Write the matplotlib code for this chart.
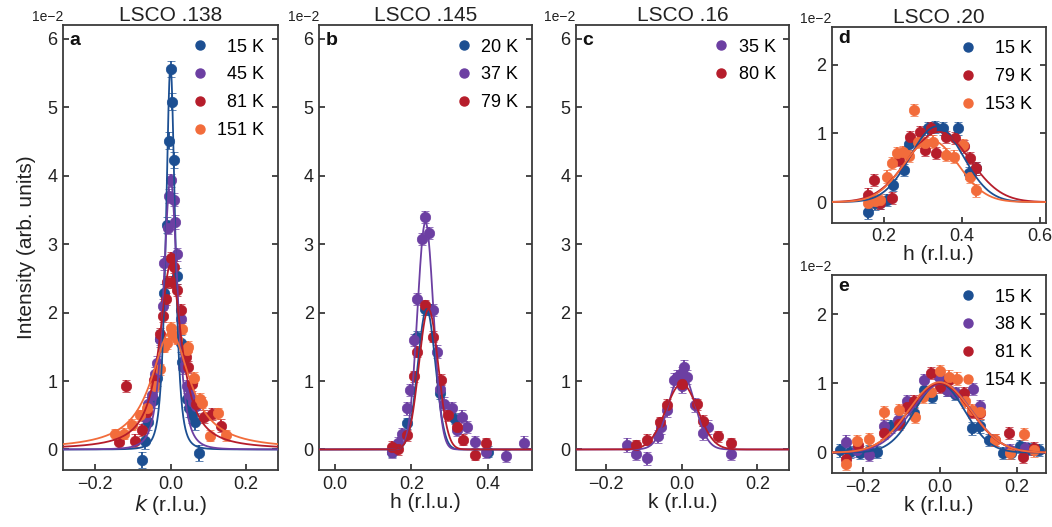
import numpy as np
import matplotlib
matplotlib.use("Agg")
import matplotlib.pyplot as plt
from matplotlib.lines import Line2D
from matplotlib.ticker import MultipleLocator, ScalarFormatter

plt.rcParams['font.family'] = ['Liberation Sans', 'DejaVu Sans']
plt.rcParams['axes.unicode_minus'] = True

BLUE = '#1c4f92'
PURPLE = '#6c3fa2'
RED = '#b61d2b'
ORANGE = '#f26c3b'
SCALE = 1e-2  # values below are in units of 1e-2

# ---------------- Panel a: LSCO .138 (k scan) ----------------
a_labels = ['\u200715 K', '\u200745 K', '\u200781 K', '151 K']
a_k_15 = [-0.075, -0.068, -0.059, -0.045, -0.035, -0.027, -0.016, -0.009, -0.004, 0.0, 0.004, 0.009, 0.018, 0.027, 0.031, 0.045, 0.05, 0.058, 0.066, 0.075]
a_I_15 = [-0.15, 0.12, 0.40, 0.72, 1.04, 1.62, 2.29, 3.28, 4.51, 5.56, 5.08, 4.23, 2.53, 1.55, 1.28, 0.74, 0.60, 0.50, 0.40, -0.05]
a_k_45 = [-0.067, -0.06, -0.05, -0.042, -0.035, -0.027, -0.019, -0.018, -0.006, -0.004, 0.0, 0.009, 0.012, 0.018, 0.027, 0.032, 0.045, 0.053, 0.06, 0.068]
a_I_45 = [0.48, 0.67, 0.8, 1.1, 1.27, 1.62, 2.1, 2.72, 3.24, 3.7, 3.93, 3.65, 3.32, 2.85, 1.9, 1.2, 0.92, 0.8, 0.7, 0.63]
a_k_81 = [-0.137, -0.117, -0.093, -0.075, -0.062, -0.044, -0.028, -0.019, -0.013, -0.009, 0.0, 0.004, 0.009, 0.018, 0.027, 0.04, 0.047, 0.058, 0.067, 0.088, 0.11, 0.135]
a_I_81 = [0.11, 0.93, 0.13, 0.28, 0.55, 1.01, 1.69, 1.95, 2.2, 2.45, 2.79, 2.45, 2.67, 2.33, 2.04, 1.35, 1.2, 0.95, 0.67, 0.48, 0.52, 0.35]
a_k_151 = [-0.146, -0.124, -0.103, -0.081, -0.062, -0.042, -0.029, -0.018, -0.009, 0.0, 0.004, 0.018, 0.031, 0.044, 0.047, 0.062, 0.078, 0.084, 0.104, 0.125, 0.146]
a_I_151 = [0.22, 0.23, 0.36, 0.5, 0.6, 0.93, 1.17, 1.5, 1.55, 1.78, 1.68, 1.62, 1.76, 1.45, 1.5, 1.05, 0.74, 0.68, 0.2, 0.53, 0.21]
a_err = [0.12, 0.1, 0.09, 0.08]
# fit parameters (amplitude, centre, width, Lorentzian power)
a_fit_amp = [5.6, 3.95, 2.7, 1.72]
a_fit_cen = [0.0, 0.0, 0.0, 0.0]
a_fit_wid = [0.0217, 0.034, 0.035, 0.062]
a_fit_pow = [2.0, 2.0, 1.0, 1.0]

# ---------------- Panel b: LSCO .145 (h scan) ----------------
b_labels = ['20 K', '37 K', '79 K']
b_h_20 = [0.15, 0.19, 0.215, 0.235, 0.245, 0.275, 0.315, 0.40]
b_I_20 = [-0.03, 0.38, 1.65, 2.05, 2.05, 0.82, 0.45, -0.03]
b_h_37 = [0.15, 0.165, 0.177, 0.188, 0.197, 0.207, 0.216, 0.227, 0.235, 0.247, 0.257, 0.266, 0.274, 0.285, 0.306, 0.318, 0.333, 0.345, 0.365, 0.396, 0.446, 0.494]
b_I_37 = [-0.03, 0.09, 0.23, 0.6, 0.87, 1.6, 2.2, 3.07, 3.4, 3.16, 2.04, 1.43, 0.89, 0.67, 0.6, 0.28, 0.48, 0.33, 0.11, -0.03, -0.1, 0.1]
b_h_79 = [0.15, 0.166, 0.188, 0.207, 0.216, 0.235, 0.256, 0.277, 0.296, 0.318, 0.335, 0.365, 0.396]
b_I_79 = [0.04, 0.0, 0.21, 1.07, 1.43, 2.11, 1.65, 1.02, 0.5, 0.33, 0.14, -0.08, 0.09]
b_err = [0.08, 0.09, 0.08]
b_fit_amp = [2.05, 3.32, 2.05]
b_fit_cen = [0.240, 0.237, 0.245]
b_fit_wid = [0.023, 0.021, 0.025]

# ---------------- Panel c: LSCO .16 (k scan) ----------------
c_labels = ['35 K', '80 K']
c_k_35 = [-0.145, -0.121, -0.093, -0.063, -0.055, -0.038, -0.02, -0.013, 0.0, 0.0, 0.006, 0.015, 0.035, 0.057, 0.07, 0.13]
c_I_35 = [0.07, -0.06, -0.13, 0.19, 0.33, 0.58, 1.01, 1.06, 1.11, 0.92, 1.21, 1.06, 0.65, 0.24, 0.33, -0.06]
c_k_80 = [-0.121, -0.091, -0.057, -0.038, 0.0, 0.04, 0.057, 0.097, 0.13]
c_I_80 = [0.06, 0.14, 0.4, 0.65, 0.96, 0.66, 0.42, 0.19, 0.09]
c_err = [0.1, 0.08]
c_fit_amp = [1.12, 0.96]
c_fit_cen = [0.0, 0.0]
c_fit_wid = [0.034, 0.042]

# ---------------- Panel d: LSCO .20 (h scan) ----------------
d_labels = ['\u200715 K', '\u200779 K', '153 K']
d_h_15 = [0.158, 0.175, 0.19, 0.206, 0.222, 0.251, 0.264, 0.312, 0.33, 0.35, 0.39, 0.417, 0.436]
d_I_15 = [-0.15, -0.02, -0.01, 0.03, 0.25, 0.47, 0.85, 1.07, 1.09, 1.07, 1.07, 0.42, 0.49]
d_h_79 = [0.158, 0.173, 0.189, 0.221, 0.239, 0.266, 0.293, 0.305, 0.32, 0.334, 0.359, 0.383, 0.404, 0.421, 0.437]
d_I_79 = [0.11, 0.32, -0.01, 0.06, 0.61, 0.95, 1.02, 0.76, 1.07, 0.71, 0.95, 0.93, 0.81, 0.64, 0.49]
d_h_153 = [0.158, 0.177, 0.189, 0.206, 0.221, 0.232, 0.247, 0.264, 0.276, 0.288, 0.305, 0.326, 0.359, 0.379, 0.402, 0.421, 0.437]
d_I_153 = [-0.01, 0.01, 0.03, 0.37, 0.57, 0.71, 0.73, 0.67, 1.34, 0.88, 0.86, 0.88, 0.69, 0.66, 0.83, 0.37, 0.17]
d_err = [0.09, 0.09, 0.09]
d_fit_amp = [1.1, 1.02, 0.9]
d_fit_cen = [0.335, 0.34, 0.32]
d_fit_wid = [0.068, 0.08, 0.07]

# ---------------- Panel e: LSCO .20 (k scan) ----------------
e_labels = ['\u200715 K', '\u200738 K', '\u200781 K', '154 K']
e_k_15 = [-0.259, -0.232, -0.206, -0.182, -0.162, -0.125, -0.104, -0.066, -0.041, -0.02, 0.0, 0.019, 0.04, 0.084, 0.105, 0.127, 0.164, 0.186, 0.209, 0.232, 0.257]
e_I_15 = [0.03, 0.01, 0.0, 0.02, 0.01, 0.38, 0.45, 0.57, 0.91, 0.81, 1.1, 0.91, 0.85, 0.35, 0.38, 0.18, -0.01, 0.0, 0.09, 0.05, 0.04]
e_k_38 = [-0.244, -0.214, -0.184, -0.145, -0.109, -0.086, -0.041, -0.003, 0.019, 0.043, 0.086, 0.105, 0.183, 0.222]
e_I_38 = [0.16, 0.03, -0.03, 0.38, 0.47, 0.74, 1.05, 1.1, 0.91, 0.86, 0.92, 0.67, 0.04, 0.06]
e_k_81 = [-0.244, -0.213, -0.145, -0.106, -0.086, -0.066, -0.022, 0.0, 0.023, 0.062, 0.084, 0.105, 0.144, 0.181, 0.216, 0.244]
e_I_81 = [-0.1, 0.11, 0.29, 0.42, 0.66, 0.74, 1.15, 0.95, 1.05, 0.86, 0.59, 0.57, 0.18, 0.28, -0.06, 0.06]
e_k_154 = [-0.244, -0.214, -0.184, -0.145, -0.106, -0.063, -0.043, -0.022, 0.0, 0.023, 0.045, 0.067, 0.084, 0.105, 0.144, 0.183, 0.218, 0.244]
e_I_154 = [-0.16, 0.17, 0.19, 0.58, 0.61, 0.52, 0.81, 0.88, 1.18, 1.1, 1.07, 0.74, 0.61, 0.58, 0.18, 0.0, 0.27, 0.03]
e_err = [0.09, 0.09, 0.09, 0.09]
e_fit_amp = [1.0, 1.0, 1.0, 1.02]
e_fit_cen = [0.0, 0.005, 0.0, 0.0]
e_fit_wid = [0.065, 0.078, 0.08, 0.08]


def lorentz(x, amp, cen, wid, pw):
    return amp / (1.0 + ((x - cen) / wid) ** 2) ** pw


def gauss(x, amp, cen, wid):
    return amp * np.exp(-0.5 * ((x - cen) / wid) ** 2)


fig = plt.figure(figsize=(10.52, 5.27), dpi=100)
W, H = 1052.0, 527.0


def add_axes(left, top, right, bottom):
    return fig.add_axes([left / W, 1 - bottom / H, (right - left) / W, (bottom - top) / H])


ax_a = add_axes(63, 25, 278, 470)
ax_b = add_axes(319.3, 25, 532, 470)
ax_c = add_axes(575.7, 25, 789.3, 470)
ax_d = add_axes(831.7, 26.7, 1045.7, 222.7)
ax_e = add_axes(831.7, 275, 1045.7, 473.3)

SPINE = '#3a3a3a'
TXT = '#222222'
TICKFS = 13
LABFS = 15
TITLEFS = 15
LEGFS = 13


def style(ax, ymajor):
    for s in ax.spines.values():
        s.set_color(SPINE)
        s.set_linewidth(1.3)
    ax.tick_params(axis='both', direction='in', length=4, width=1.3, color=SPINE,
                   labelsize=TICKFS, labelcolor=TXT, pad=4)
    ax.tick_params(axis='y', right=True, left=True)
    ax.tick_params(axis='x', top=False)
    ax.yaxis.set_major_locator(MultipleLocator(ymajor * SCALE))
    fmt = ScalarFormatter(useMathText=False)
    fmt.set_powerlimits((0, 0))
    ax.yaxis.set_major_formatter(fmt)
    off = ax.yaxis.get_offset_text()
    off.set_fontsize(10)
    off.set_ha('right')
    off.set_color(TXT)


def draw_points(ax, xs, ys, err, color):
    ax.errorbar(xs, np.array(ys) * SCALE, yerr=err * SCALE, fmt='o', color=color,
                ms=7.5, mec=color, mew=0.5, elinewidth=1.3, capsize=3, capthick=1.3, zorder=3)


def legend(ax, colors, labels):
    handles = [Line2D([], [], marker='o', ls='', color=c, ms=6.5) for c in colors]
    ax.legend(handles, labels, loc='upper right', frameon=False, fontsize=LEGFS,
              handlelength=0.8, handletextpad=0.55, labelspacing=0.6,
              borderaxespad=0.45, borderpad=0.3)


def letter(ax, t):
    ax.text(0.03, 0.985, t, transform=ax.transAxes, va='top', ha='left',
            fontsize=14, fontweight='bold', color='#111111')


def finish(ax, title, xlabel):
    if title:
        ax.set_title(title, fontsize=TITLEFS, pad=3, color=TXT)
    ax.set_xlabel(xlabel, fontsize=LABFS, labelpad=0, color=TXT)


# ---- Panel a ----
cols_a = [BLUE, PURPLE, RED, ORANGE]
xa = [a_k_15, a_k_45, a_k_81, a_k_151]
ya = [a_I_15, a_I_45, a_I_81, a_I_151]
xx = np.linspace(-0.285, 0.285, 800)
for i in range(4):
    draw_points(ax_a, xa[i], ya[i], a_err[i], cols_a[i])
for i in range(4):
    ax_a.plot(xx, lorentz(xx, a_fit_amp[i], a_fit_cen[i], a_fit_wid[i], a_fit_pow[i]) * SCALE,
              color=cols_a[i], lw=1.3, zorder=4)
ax_a.set_xlim(-0.285, 0.285)
ax_a.set_ylim(-0.3 * SCALE, 6.2 * SCALE)
ax_a.set_xticks([-0.2, 0.0, 0.2])
style(ax_a, 1)
legend(ax_a, cols_a, a_labels)
letter(ax_a, 'a')
finish(ax_a, 'LSCO .138', '$k$ (r.l.u.)')
ax_a.set_ylabel('Intensity (arb. units)', fontsize=LABFS, labelpad=8, color=TXT)

# ---- Panel b ----
cols_b = [BLUE, PURPLE, RED]
xb = [b_h_20, b_h_37, b_h_79]
yb = [b_I_20, b_I_37, b_I_79]
xx = np.linspace(-0.04, 0.515, 800)
for i in range(3):
    draw_points(ax_b, xb[i], yb[i], b_err[i], cols_b[i])
for i in range(3):
    ax_b.plot(xx, gauss(xx, b_fit_amp[i], b_fit_cen[i], b_fit_wid[i]) * SCALE,
              color=cols_b[i], lw=1.3, zorder=4)
ax_b.set_xlim(-0.04, 0.515)
ax_b.set_ylim(-0.3 * SCALE, 6.2 * SCALE)
ax_b.set_xticks([0.0, 0.2, 0.4])
style(ax_b, 1)
legend(ax_b, cols_b, b_labels)
letter(ax_b, 'b')
finish(ax_b, 'LSCO .145', 'h (r.l.u.)')

# ---- Panel c ----
cols_c = [PURPLE, RED]
xc = [c_k_35, c_k_80]
yc = [c_I_35, c_I_80]
xx = np.linspace(-0.28, 0.285, 800)
for i in range(2):
    draw_points(ax_c, xc[i], yc[i], c_err[i], cols_c[i])
for i in range(2):
    ax_c.plot(xx, gauss(xx, c_fit_amp[i], c_fit_cen[i], c_fit_wid[i]) * SCALE,
              color=cols_c[i], lw=1.3, zorder=4)
ax_c.set_xlim(-0.28, 0.284)
ax_c.set_ylim(-0.3 * SCALE, 6.2 * SCALE)
ax_c.set_xticks([-0.2, 0.0, 0.2])
style(ax_c, 1)
legend(ax_c, cols_c, c_labels)
letter(ax_c, 'c')
finish(ax_c, 'LSCO .16', 'k (r.l.u.)')

# ---- Panel d ----
cols_d = [BLUE, RED, ORANGE]
xd = [d_h_15, d_h_79, d_h_153]
yd = [d_I_15, d_I_79, d_I_153]
xx = np.linspace(0.06, 0.62, 800)
for i in range(3):
    draw_points(ax_d, xd[i], yd[i], d_err[i], cols_d[i])
for i in range(3):
    ax_d.plot(xx, gauss(xx, d_fit_amp[i], d_fit_cen[i], d_fit_wid[i]) * SCALE,
              color=cols_d[i], lw=1.3, zorder=4)
ax_d.set_xlim(0.065, 0.615)
ax_d.set_ylim(-0.3 * SCALE, 2.55 * SCALE)
ax_d.set_xticks([0.2, 0.4, 0.6])
style(ax_d, 1)
legend(ax_d, cols_d, d_labels)
letter(ax_d, 'd')
finish(ax_d, 'LSCO .20', 'h (r.l.u.)')

# ---- Panel e ----
cols_e = [BLUE, PURPLE, RED, ORANGE]
xe = [e_k_15, e_k_38, e_k_81, e_k_154]
ye = [e_I_15, e_I_38, e_I_81, e_I_154]
xx = np.linspace(-0.28, 0.28, 800)
for i in range(4):
    draw_points(ax_e, xe[i], ye[i], e_err[i], cols_e[i])
for i in range(4):
    ax_e.plot(xx, gauss(xx, e_fit_amp[i], e_fit_cen[i], e_fit_wid[i]) * SCALE,
              color=cols_e[i], lw=1.3, zorder=4)
ax_e.set_xlim(-0.28, 0.275)
ax_e.set_ylim(-0.3 * SCALE, 2.57 * SCALE)
ax_e.set_xticks([-0.2, 0.0, 0.2])
style(ax_e, 1)
legend(ax_e, cols_e, e_labels)
letter(ax_e, 'e')
finish(ax_e, None, 'k (r.l.u.)')

fig.savefig('out.png', dpi=100)
